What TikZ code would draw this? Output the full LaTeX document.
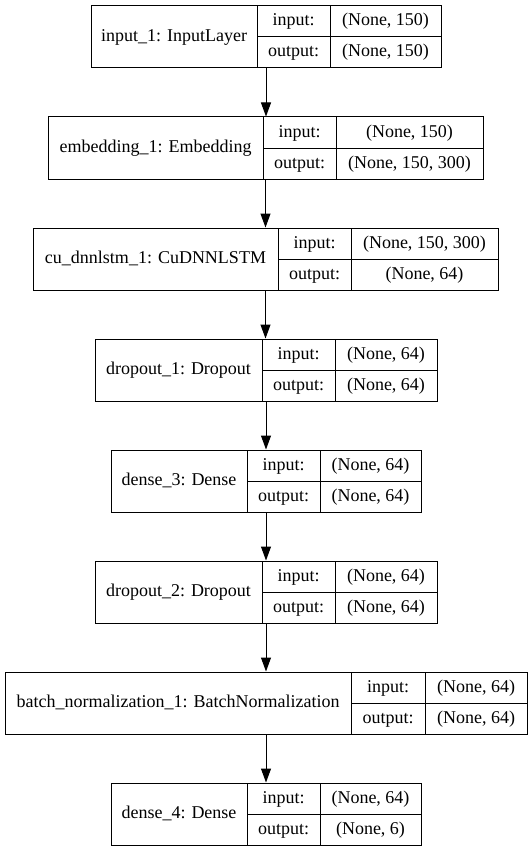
\documentclass[tikz,border=0pt]{standalone}
\usepackage{fontspec}
\setmainfont{Liberation Serif}
\usetikzlibrary{arrows.meta}
\tikzset{
  cell/.style={draw=black, line width=1pt, inner sep=0pt},
  txt/.style={inner sep=0pt, text height=12pt, text depth=3pt, font=\fontsize{18}{20}\selectfont},
  conn/.style={draw=black, line width=1pt, -{Triangle[length=14pt,width=10pt]}}
}
% #1 id, #2 top, #3 left, #4 div1, #5 div2, #6 right, #7 name, #8 in, #9 out
\newcommand\kbox[9]{%
  \node[cell, minimum width={(#6-#3)*1pt}, minimum height=62pt] (#1) at ({(#3+#6)/2},{#2+31}) {};
  \draw[cell] (#4,#2) -- (#4,{#2+62});
  \draw[cell] (#5,#2) -- (#5,{#2+62});
  \draw[cell] (#4,{#2+31}) -- (#6,{#2+31});
  \node[txt] (#1-name) at ({(#3+#4)/2},{#2+31}) {#7};
  \node[txt] (#1-il) at ({(#4+#5)/2},{#2+15.5}) {input:};
  \node[txt] (#1-ol) at ({(#4+#5)/2},{#2+46.5}) {output:};
  \node[txt] (#1-iv) at ({(#5+#6)/2},{#2+15.5}) {#8};
  \node[txt] (#1-ov) at ({(#5+#6)/2},{#2+46.5}) {#9};
}
\begin{document}
\begin{tikzpicture}[x=1pt,y=-1pt]
\useasboundingbox[fill=white] (0,0) rectangle (532,848);
\kbox{b1}{6}{91}{257}{330}{441}{input\_1: InputLayer}{(None, 150)}{(None, 150)}
\kbox{b2}{117}{48}{263}{336}{483}{embedding\_1: Embedding}{(None, 150)}{(None, 150, 300)}
\kbox{b3}{228}{33}{278}{351}{498}{cu\_dnnlstm\_1: CuDNNLSTM}{(None, 150, 300)}{(None, 64)}
\kbox{b4}{339}{95}{262}{335}{437}{dropout\_1: Dropout}{(None, 64)}{(None, 64)}
\kbox{b5}{450}{111}{247}{320}{421}{dense\_3: Dense}{(None, 64)}{(None, 64)}
\kbox{b6}{561}{95}{262}{335}{437}{dropout\_2: Dropout}{(None, 64)}{(None, 64)}
\kbox{b7}{672}{5}{351}{425}{527}{batch\_normalization\_1: BatchNormalization}{(None, 64)}{(None, 64)}
\kbox{b8}{783}{111}{247}{320}{421}{dense\_4: Dense}{(None, 64)}{(None, 6)}
\draw[conn] (b1.south) -- (b1.south |- b2.north);
\draw[conn] (b2.south) -- (b2.south |- b3.north);
\draw[conn] (b3.south) -- (b3.south |- b4.north);
\draw[conn] (b4.south) -- (b4.south |- b5.north);
\draw[conn] (b5.south) -- (b5.south |- b6.north);
\draw[conn] (b6.south) -- (b6.south |- b7.north);
\draw[conn] (b7.south) -- (b7.south |- b8.north);
\end{tikzpicture}
\end{document}
